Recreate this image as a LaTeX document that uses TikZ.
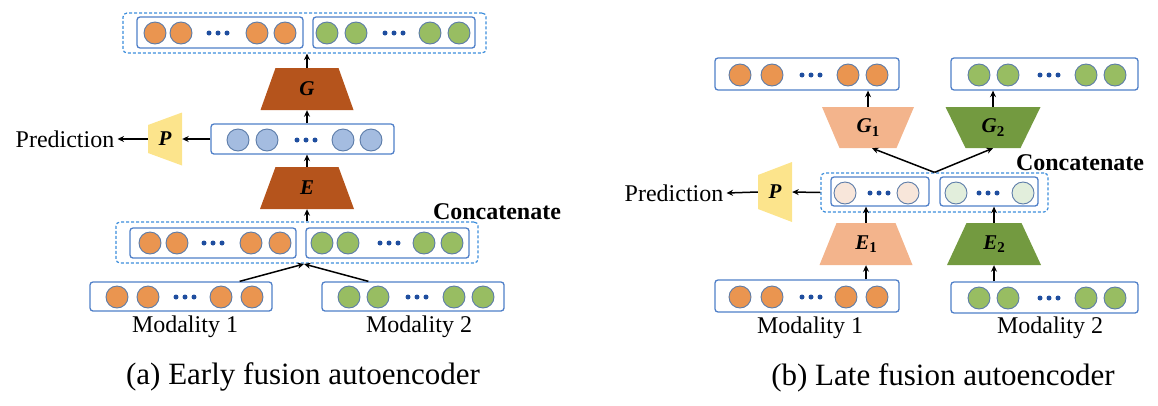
\documentclass[tikz,border=0pt]{standalone}
\usepackage{fontspec}
\setmainfont{Liberation Serif}
\usetikzlibrary{arrows.meta,calc}
\definecolor{boxblue}{HTML}{4F7FC8}
\definecolor{dashblue}{HTML}{3C8DDB}
\definecolor{circedge}{HTML}{5B7BA8}
\definecolor{corange}{HTML}{EA9550}
\definecolor{cgreen}{HTML}{98BD62}
\definecolor{cblue}{HTML}{A4BCE0}
\definecolor{cpaleor}{HTML}{F8E6DA}
\definecolor{cpalegr}{HTML}{E2EEDC}
\definecolor{dotblue}{HTML}{1F4E9F}
\definecolor{tdark}{HTML}{B5541C}
\definecolor{tlight}{HTML}{F3B48C}
\definecolor{tgreen}{HTML}{739A40}
\definecolor{tyellow}{HTML}{FCE48C}
\newcommand\circrow[4]{%
  \foreach \cx in {#2} \draw[line width=0.9pt, draw=circedge, fill=#3] (\cx,#1) circle[radius=11pt];
  \foreach \dd in {-9,0,9} \fill[dotblue] ({#4+\dd},#1) circle[radius=2.5pt];}
% name, cx, cy, half top, half bottom, half height, colour, label
\newcommand\trap[8]{%
  \fill[#7] ({#2-#4},{#3-#6}) -- ({#2+#4},{#3-#6}) -- ({#2+#5},{#3+#6}) -- ({#2-#5},{#3+#6}) -- cycle;
  \node[tlab, inner sep=0pt, minimum height={2*#6 pt}, minimum width={2*#5 pt}] (#1) at (#2,#3) {#8};}
% name, cx, cy, half width, left half height, right half height, label
\newcommand\htrap[7]{%
  \fill[tyellow] ({#2-#4},{#3-#5}) -- ({#2+#4},{#3-#6}) -- ({#2+#4},{#3+#6}) -- ({#2-#4},{#3+#5}) -- cycle;
  \node[tlab, inner sep=0pt, minimum height={2*#6 pt}, minimum width={2*#4 pt}] (#1) at (#2,#3) {#7};}
\newcommand\subl[2]{{\bfseries\itshape #1}\raisebox{-0.35ex}{\fontsize{15}{15}\selectfont\bfseries\upshape #2}}
\begin{document}
\begin{tikzpicture}[x=1pt,y=-1pt,
  box/.style={draw=boxblue, line width=1.3pt, rounded corners=3pt, inner sep=0pt},
  dbox/.style={draw=dashblue, line width=1.2pt, dash pattern=on 3pt off 2pt, rounded corners=4pt, inner sep=0pt},
  arr/.style={-{Stealth[length=6.5pt,width=6pt]}, line width=1.5pt},
  lbl/.style={font=\fontsize{24}{28}\selectfont, inner sep=0pt},
  cat/.style={font=\fontsize{24}{28}\selectfont\bfseries, inner sep=0pt},
  captxt/.style={font=\fontsize{31}{34}\selectfont, inner sep=0pt},
  tlab/.style={font=\fontsize{21}{23}\selectfont\bfseries\itshape}]
\useasboundingbox (0,0) rectangle (1158,405);

% ---------------- (a) Early fusion ----------------
\node[dbox, minimum width=363pt, minimum height=40pt] (atop) at (304.5,33) {};
\node[box, minimum width=166pt, minimum height=31pt] (atopl) at (220,32.5) {};
\node[box, minimum width=162pt, minimum height=31pt] (atopr) at (394,32.5) {};
\circrow{33}{155,181,257,285}{corange}{218}
\circrow{33}{327,356,430,459}{cgreen}{394}

\trap{aG}{307}{89}{31.5}{46.5}{21}{tdark}{G}
\node[box, minimum width=183pt, minimum height=30pt] (ablue) at (302.5,139) {};
\circrow{140}{238,267,343,371}{cblue}{306}
\htrap{aP}{165}{139}{17}{14}{26.5}{P}
\node[lbl] (apred) at (65,139) {Prediction};

\trap{aE}{307}{188}{31.5}{47}{21}{tdark}{E}
\node[cat] (acat) at (497,212) {Concatenate};
\node[dbox, minimum width=362pt, minimum height=41pt] (acon) at (297,242.5) {};
\node[box, minimum width=166pt, minimum height=30pt] (aconl) at (213,243) {};
\node[box, minimum width=163pt, minimum height=30pt] (aconr) at (387.5,243) {};
\circrow{243}{150,177,251,280}{corange}{213}
\circrow{243}{322,348,424,452}{cgreen}{389}

\node[box, minimum width=182pt, minimum height=29pt] (am1) at (181,296.5) {};
\node[box, minimum width=182pt, minimum height=29pt] (am2) at (413,296.5) {};
\circrow{297}{117,148,221,252}{corange}{185}
\circrow{297}{349,378,454,483}{cgreen}{417}
\node[lbl] (am1t) at (185,327) {Modality 1};
\node[lbl] (am2t) at (419,327) {Modality 2};
\node[captxt] (acap) at (303,377) {(a) Early fusion autoencoder};

\coordinate (amerge) at (304,264);
\draw[arr] ($(am1.north east)+(-33,0)$) -- (amerge);
\draw[arr] ($(am2.north west)+(47,0)$) -- (amerge);
\draw[arr] (aE.south |- acon.north) -- (aE.south);
\draw[arr] (aE.north) -- (aE.north |- ablue.south);
\draw[arr] (aG.south |- ablue.north) -- (aG.south);
\draw[arr] (aG.north) -- (aG.north |- atop.south);
\draw[arr] (ablue.west) -- (aP.east);
\draw[arr] (aP.west) -- ($(apred.east)+(3,0)$);

% ---------------- (b) Late fusion ----------------
\node[box, minimum width=184pt, minimum height=32pt] (bt1) at (807,74) {};
\node[box, minimum width=187pt, minimum height=32pt] (bt2) at (1044.5,74) {};
\circrow{75}{740,772,848,877}{corange}{811}
\circrow{75}{979,1008,1086,1115}{cgreen}{1049}

\trap{bG1}{868}{127.5}{46}{28.5}{20.5}{tlight}{\subl{G}{1}}
\trap{bG2}{993}{127.5}{47.5}{27.5}{20.5}{tgreen}{\subl{G}{2}}

\node[cat] (bcat) at (1080,163) {Concatenate};
\node[dbox, minimum width=227pt, minimum height=39pt] (bcon) at (934.5,192.5) {};
\node[box, minimum width=98pt, minimum height=29pt] (bc1) at (880,191.5) {};
\node[box, minimum width=98pt, minimum height=29pt] (bc2) at (989,191.5) {};
\circrow{193}{845,908}{cpaleor}{879}
\circrow{193}{956,1023}{cpalegr}{988}

\htrap{bP}{775}{192}{17}{17}{30}{P}
\node[lbl] (bpred) at (674,193) {Prediction};

\trap{bE1}{866}{244}{29.5}{46.5}{21}{tlight}{\subl{E}{1}}
\trap{bE2}{994}{244}{27.5}{47}{21}{tgreen}{\subl{E}{2}}

\node[box, minimum width=184pt, minimum height=32pt] (bm1) at (807,296) {};
\node[box, minimum width=187pt, minimum height=31pt] (bm2) at (1044.5,297.5) {};
\circrow{297}{740,772,846,877}{corange}{811}
\circrow{298}{979,1008,1086,1115}{cgreen}{1049}
\node[lbl] (bm1t) at (810,328) {Modality 1};
\node[lbl] (bm2t) at (1050,328) {Modality 2};
\node[captxt] (bcap) at (943,378) {(b) Late fusion autoencoder};

\draw[arr] (bE1.south |- bm1.north) -- (bE1.south);
\draw[arr] (bE2.south |- bm2.north) -- (bE2.south);
\draw[arr] (bE1.north) -- (bE1.north |- bc1.south);
\draw[arr] (bE2.north) -- (bE2.north |- bc2.south);
\draw[arr] (bcon.north) -- ($(bG1.south)+(4,0)$);
\draw[arr] (bcon.north) -- (bG2.south);
\draw[arr] (bG1.north) -- (bG1.north |- bt1.south);
\draw[arr] (bG2.north) -- (bG2.north |- bt2.south);
\draw[arr] (bcon.west) -- (bP.east);
\draw[arr] (bP.west) -- ($(bpred.east)+(3,0)$);
\end{tikzpicture}
\end{document}
